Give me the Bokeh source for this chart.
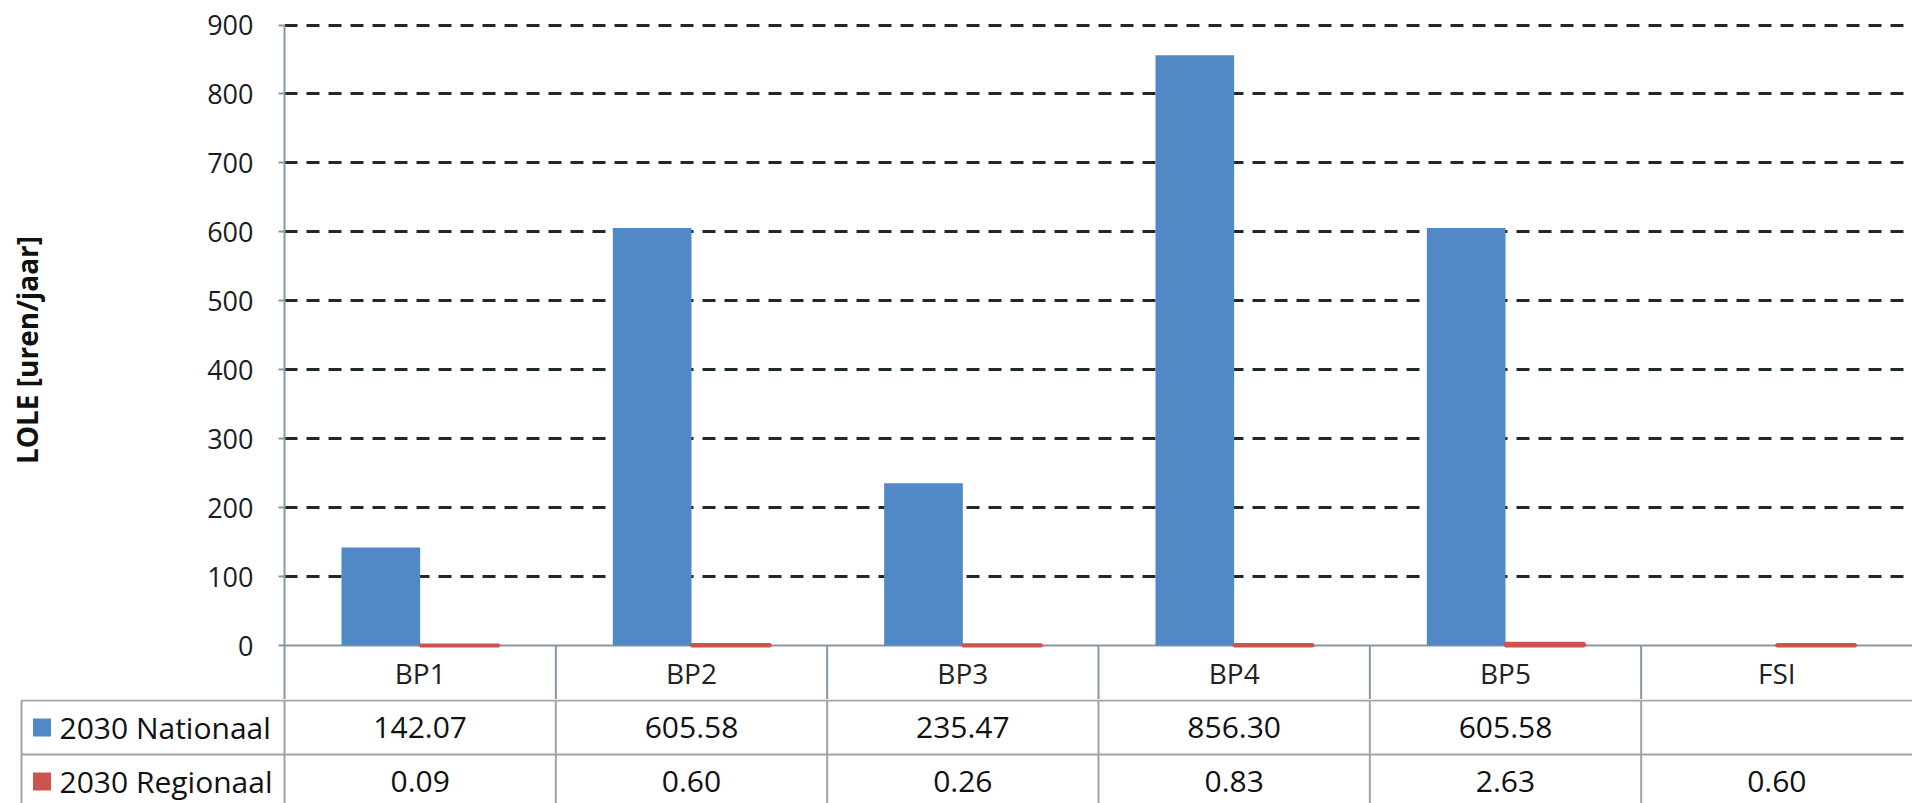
from bokeh.plotting import figure
from bokeh.models import ColumnDataSource, Range1d, FactorRange, FixedTicker, Span
from bokeh.transform import dodge
from bokeh.embed import file_html
from bokeh.resources import INLINE
from bokeh.core.properties import value

# ---- data ----
categories = ["BP1", "BP2", "BP3", "BP4", "BP5", "FSI"]
series_names = ["2030 Nationaal", "2030 Regionaal"]
nationaal = [142.07, 605.58, 235.47, 856.30, 605.58, None]
regionaal = [0.09, 0.60, 0.26, 0.83, 2.63, 0.60]
y_ticks = [0, 100, 200, 300, 400, 500, 600, 700, 800, 900]
y_label = "LOLE [uren/jaar]"

# ---- styling / layout constants ----
BLUE = "#5189c6"
RED = "#cc5450"
AXIS_GRAY = "#8797a3"
TABLE_GRAY = "#a3a3a3"
GRID_DARK = "#1e2930"
TEXT = "#111111"
FONT = "Open Sans"

W = 1912
AXIS_X = 284            # left edge of the plotting area
TABLE_LEFT_X = 21       # left border of the data table
CHART_H = 699           # chart incl. category header row
TABLE_H = 104
ZERO_PX = 645           # vertical position of the value 0
TOP_TICK_PX = 24.5      # vertical position of the top tick
ROW_PX = 54

n = len(categories)
CAT_PX = (W - AXIS_X) / n
px_per_unit = (ZERO_PX - TOP_TICK_PX) / (y_ticks[-1] - y_ticks[0])
y_bottom = -(CHART_H - ZERO_PX) / px_per_unit
y_top = y_ticks[-1] + TOP_TICK_PX / px_per_unit

nan = float("nan")
src = ColumnDataSource(dict(
    cat=categories,
    nat=[nan if v is None else v for v in nationaal],
    reg=regionaal,
))

# ---- bar chart with category header row ----
p = figure(
    width=W, height=CHART_H,
    x_range=FactorRange(*categories, range_padding=0, factor_padding=0),
    y_range=Range1d(y_bottom, y_top),
    output_backend="svg", toolbar_location=None,
    x_axis_location=None,
    min_border=0, min_border_left=AXIS_X,
)
p.outline_line_color = None
p.background_fill_color = "white"
p.xgrid.visible = False

p.ygrid.ticker = FixedTicker(ticks=y_ticks[1:])
p.ygrid.grid_line_color = GRID_DARK
p.ygrid.grid_line_width = 3
p.ygrid.grid_line_dash = "13 9"

ax = p.yaxis[0]
ax.ticker = FixedTicker(ticks=y_ticks)
ax.bounds = (y_bottom, y_ticks[-1])
ax.axis_line_color = AXIS_GRAY
ax.axis_line_width = 2
ax.major_tick_line_color = AXIS_GRAY
ax.major_tick_line_width = 2
ax.major_tick_out = 6
ax.major_tick_in = 0
ax.minor_tick_line_color = None
ax.major_label_standoff = 25
ax.major_label_text_font = FONT
ax.major_label_text_font_size = "27px"
ax.major_label_text_color = "#1c1c1c"
ax.axis_label = y_label
ax.axis_label_text_font = FONT
ax.axis_label_text_font_style = "bold"
ax.axis_label_text_font_size = "28px"
ax.axis_label_text_color = TEXT
ax.axis_label_standoff = 158

zero_line = Span(location=0, dimension="width", line_color=AXIS_GRAY,
                 line_width=2, level="underlay")
p.add_layout(zero_line)

bar_w = 0.29
p.vbar(x=dodge("cat", -bar_w / 2, range=p.x_range), top="nat", bottom=0,
       width=bar_w, source=src, fill_color=BLUE, line_color=None)
p.vbar(x=dodge("cat", bar_w / 2, range=p.x_range), top="reg", bottom=0,
       width=bar_w, source=src, fill_color=RED, line_color=RED, line_width=4)

# header row: category names and separators
hdr = ColumnDataSource(dict(cat=categories[:-1]))
p.segment(x0=dodge("cat", 0.5, range=p.x_range), x1=dodge("cat", 0.5, range=p.x_range),
          y0=0, y1=y_bottom, source=hdr, line_color=AXIS_GRAY, line_width=2)
p.text(x=categories, y=[y_bottom / 2] * n, text=categories,
       text_align="center", text_baseline="middle",
       text_font=value(FONT), text_font_size="28px", text_color="#222222")

# ---- data table below the chart ----
frame_left = TABLE_LEFT_X - 4
x_start = -(AXIS_X - frame_left) / CAT_PX
x_table_left = -(AXIS_X - TABLE_LEFT_X) / CAT_PX
y_end = 2 + 1 / ROW_PX
y_start = y_end - TABLE_H / ROW_PX

t = figure(
    width=W, height=TABLE_H,
    x_range=Range1d(x_start, n), y_range=Range1d(y_start, y_end),
    output_backend="svg", toolbar_location=None,
    x_axis_location=None, y_axis_location=None,
    min_border=0, min_border_left=frame_left,
)
t.outline_line_color = None
t.grid.visible = False

# grid lines of the table
t.segment(x0=[x_table_left, x_table_left], x1=[n, n], y0=[2, 1], y1=[2, 1],
          line_color=TABLE_GRAY, line_width=2)
col_x = [x_table_left] + list(range(n))
t.segment(x0=col_x, x1=col_x, y0=[y_start] * len(col_x), y1=[2] * len(col_x),
          line_color=TABLE_GRAY, line_width=2)

centers = [i + 0.5 for i in range(n)]
row_y = [1.5, 0.5]
for vals, ry in zip([nationaal, regionaal], row_y):
    labels = ["" if v is None else f"{v:.2f}" for v in vals]
    t.text(x=centers, y=[ry] * n, text=labels,
           text_align="center", text_baseline="middle",
           text_font=value(FONT), text_font_size="30px", text_color=TEXT)

# series keys in the first column
key_x = x_table_left + 20.5 / CAT_PX
name_x = x_table_left + 38 / CAT_PX
t.scatter(x=[key_x, key_x], y=row_y, marker="square", size=18,
          fill_color=[BLUE, RED], line_color=None)
t.text(x=[name_x, name_x], y=row_y, text=series_names,
       text_align="left", text_baseline="middle",
       text_font=value(FONT), text_font_size="30px", text_color=TEXT)

# chart and table are separate roots, stacked on the page
open("out.html", "w").write(file_html([p, t], INLINE))
